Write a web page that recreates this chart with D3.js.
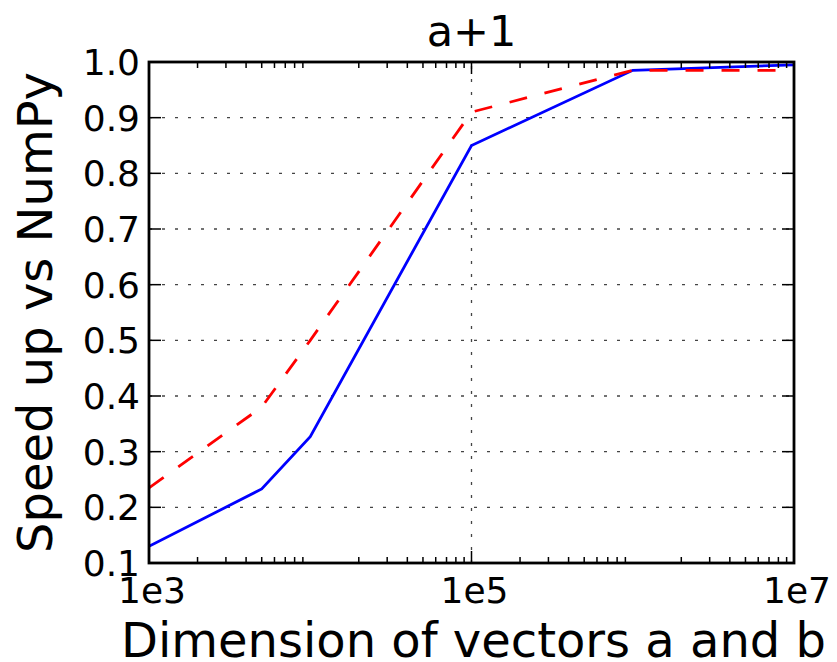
<!DOCTYPE html>
<html>
<head>
<meta charset="utf-8">
<script src="https://cdn.jsdelivr.net/npm/d3@7"></script>
<style>
  body { margin: 0; background: white; }
  text { font-family: "DejaVu Sans", sans-serif; fill: black; }
</style>
</head>
<body>
<svg id="chart" width="837" height="662"></svg>
<script>
////////////////////////////////////////////////////////////////////////////////////
// Data
var vectorSizes = [1e3, 5e3, 1e4, 1e5, 1e6, 1e7];
var speedupSolid = [0.13, 0.233, 0.327, 0.85, 0.985, 0.995];
var speedupDashed = [0.235, 0.38, 0.50, 0.91, 0.985, 0.985];
var xTickValues = [1e3, 1e5, 1e7];
var xTickLabels = ["1e3", "1e5", "1e7"];
var yTickValues = [0.1, 0.2, 0.3, 0.4, 0.5, 0.6, 0.7, 0.8, 0.9, 1.0];

////////////////////////////////////////////////////////////////////////////////////
// Setup
var svg = d3.select("#chart");
var plotLeft = 149, plotRight = 794, plotTop = 62, plotBottom = 563;

var xScale = d3.scaleLog()
               .domain([1e3, 1e7])
               .range([plotLeft, plotRight]);
var yScale = d3.scaleLinear()
               .domain([0.1, 1.0])
               .range([plotBottom, plotTop]);

// minor ticks: 2..9 x 10^k (no tick at 1e4 / 1e6)
var minorTicks = [];
[1e3, 1e4, 1e5, 1e6].forEach(function(dec) {
  for (var k = 2; k <= 9; k++) minorTicks.push(k * dec);
});

////////////////////////////////////////////////////////////////////////////////////
// Grid
var grid = svg.append("g")
              .attr("stroke", "#444")
              .attr("stroke-width", 1.3)
              .attr("stroke-dasharray", "3,10");
grid.selectAll(".hgrid")
    .data(yTickValues)
    .enter()
    .append("line")
    .attr("x1", plotLeft).attr("x2", plotRight)
    .attr("y1", function(d) { return yScale(d); })
    .attr("y2", function(d) { return yScale(d); });
grid.selectAll(".vgrid")
    .data(xTickValues)
    .enter()
    .append("line")
    .attr("y1", plotBottom).attr("y2", plotTop)
    .attr("x1", function(d) { return xScale(d); })
    .attr("x2", function(d) { return xScale(d); });

////////////////////////////////////////////////////////////////////////////////////
// Lines
svg.append("clipPath")
   .attr("id", "plotClip")
   .append("rect")
   .attr("x", plotLeft).attr("y", plotTop)
   .attr("width", plotRight - plotLeft).attr("height", plotBottom - plotTop);

var line = d3.line()
             .x(function(d) { return xScale(d[0]); })
             .y(function(d) { return yScale(d[1]); });

svg.append("path")
   .datum(d3.zip(vectorSizes, speedupSolid))
   .attr("clip-path", "url(#plotClip)")
   .attr("d", line)
   .attr("fill", "none")
   .attr("stroke", "#0000ff")
   .attr("stroke-width", 2.8);

svg.append("path")
   .datum(d3.zip(vectorSizes, speedupDashed))
   .attr("clip-path", "url(#plotClip)")
   .attr("d", line)
   .attr("fill", "none")
   .attr("stroke", "#ff0000")
   .attr("stroke-width", 2.8)
   .attr("stroke-dasharray", "18,18");

////////////////////////////////////////////////////////////////////////////////////
// Ticks (inside, on all four sides)
var ticks = svg.append("g")
               .attr("stroke", "black")
               .attr("stroke-width", 1.5);

yTickValues.forEach(function(v) {
  var y = yScale(v);
  ticks.append("line").attr("x1", plotLeft).attr("x2", plotLeft + 12).attr("y1", y).attr("y2", y);
  ticks.append("line").attr("x1", plotRight).attr("x2", plotRight - 12).attr("y1", y).attr("y2", y);
});
xTickValues.forEach(function(v) {
  var x = xScale(v);
  ticks.append("line").attr("x1", x).attr("x2", x).attr("y1", plotBottom).attr("y2", plotBottom - 12);
  ticks.append("line").attr("x1", x).attr("x2", x).attr("y1", plotTop).attr("y2", plotTop + 12);
});
minorTicks.forEach(function(v) {
  var x = xScale(v);
  ticks.append("line").attr("x1", x).attr("x2", x).attr("y1", plotBottom).attr("y2", plotBottom - 6);
  ticks.append("line").attr("x1", x).attr("x2", x).attr("y1", plotTop).attr("y2", plotTop + 6);
});

// frame
svg.append("rect")
   .attr("x", plotLeft).attr("y", plotTop)
   .attr("width", plotRight - plotLeft).attr("height", plotBottom - plotTop)
   .attr("fill", "none")
   .attr("stroke", "black")
   .attr("stroke-width", 2.8);

////////////////////////////////////////////////////////////////////////////////////
// Tick labels
svg.selectAll(".ylab")
   .data(yTickValues)
   .enter()
   .append("text")
   .attr("x", plotLeft - 9)
   .attr("y", function(d) { return yScale(d) + 13; })
   .attr("text-anchor", "end")
   .style("font-size", "36px")
   .text(function(d) { return d3.format(".1f")(d); });

svg.selectAll(".xlab")
   .data(xTickValues)
   .enter()
   .append("text")
   .attr("x", function(d) { return xScale(d) + 3; })
   .attr("y", 603)
   .attr("text-anchor", "middle")
   .style("font-size", "36px")
   .text(function(d, i) { return xTickLabels[i]; });

////////////////////////////////////////////////////////////////////////////////////
// Title and axis labels
svg.append("text")
   .attr("x", (plotLeft + plotRight) / 2)
   .attr("y", 46)
   .attr("text-anchor", "middle")
   .style("font-size", "43px")
   .text("a+1");

svg.append("text")
   .attr("x", (plotLeft + plotRight) / 2 + 2)
   .attr("y", 657)
   .attr("text-anchor", "middle")
   .style("font-size", "48px")
   .text("Dimension of vectors a and b");

svg.append("text")
   .attr("transform", "translate(52," + ((plotTop + plotBottom) / 2) + ") rotate(-90)")
   .attr("text-anchor", "middle")
   .style("font-size", "48px")
   .text("Speed up vs NumPy");
</script>
</body>
</html>
